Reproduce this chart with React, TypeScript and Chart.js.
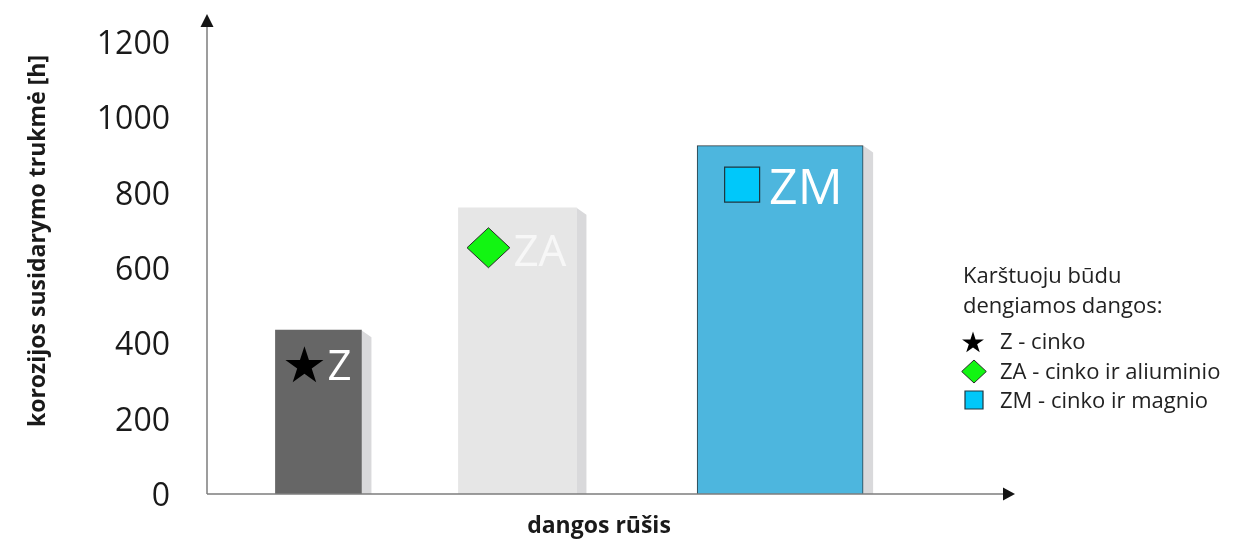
import React, { useEffect, useRef } from "react";
import { Chart, registerables } from "chart.js";

Chart.register(...registerables);

// ---- data ----
const categories = ["Z", "ZA", "ZM"];
const values = [435, 760, 925];
// place of each coating on the hidden horizontal scale (0–100)
const slots = [14, 39, 72];
const yTickValues = [0, 200, 400, 600, 800, 1000, 1200];
const legendTitle = ["Karštuoju būdu", "dengiamos dangos:"];
const legendLabels = ["Z - cinko", "ZA - cinko ir aliuminio", "ZM - cinko ir magnio"];
const yTitle = "korozijos susidarymo trukmė [h]";
const xTitle = "dangos rūšis";

// ---- styles ----
const FONT = '"Open Sans", "Noto Sans", sans-serif';
const barColors = ["#666666", "#e6e6e6", "#4db6de"];
const barBorders = ["#666666", "#e6e6e6", "#2b3a40"];
const barBorderWidths = [0, 0, 1];
const barThickness = [86, 118, 166];
const textDark = "#1a1a1a";

function starPath(ctx: CanvasRenderingContext2D, cx: number, cy: number, R: number) {
  ctx.beginPath();
  for (let i = 0; i < 10; i++) {
    const r = i % 2 ? R * 0.382 : R;
    const a = -Math.PI / 2 + (i * Math.PI) / 5;
    const px = cx + r * Math.cos(a);
    const py = cy + r * Math.sin(a);
    if (i === 0) ctx.moveTo(px, py);
    else ctx.lineTo(px, py);
  }
  ctx.closePath();
}

function diamondPath(ctx: CanvasRenderingContext2D, cx: number, cy: number, hw: number, hh: number) {
  ctx.beginPath();
  ctx.moveTo(cx, cy - hh);
  ctx.lineTo(cx + hw, cy);
  ctx.lineTo(cx, cy + hh);
  ctx.lineTo(cx - hw, cy);
  ctx.closePath();
}

function drawMarker(ctx: CanvasRenderingContext2D, i: number, cx: number, cy: number, s: number) {
  ctx.save();
  if (i === 0) {
    starPath(ctx, cx, cy, s);
    ctx.fillStyle = "#000000";
    ctx.fill();
  } else if (i === 1) {
    diamondPath(ctx, cx, cy, s * 1.07, s);
    ctx.fillStyle = "#12f512";
    ctx.fill();
    ctx.lineWidth = 1;
    ctx.strokeStyle = "#2a2a2a";
    ctx.stroke();
  } else {
    ctx.beginPath();
    ctx.rect(cx - s, cy - s, 2 * s, 2 * s);
    ctx.fillStyle = "#00c8fa";
    ctx.fill();
    ctx.lineWidth = 1.2;
    ctx.strokeStyle = "#1f3640";
    ctx.stroke();
  }
  ctx.restore();
}

const shadowPlugin = {
  id: "barShadow",
  beforeDatasetsDraw(chart: any) {
    const ctx = chart.ctx as CanvasRenderingContext2D;
    ctx.save();
    ctx.fillStyle = "#d9d9db";
    chart.data.datasets.forEach((_: any, di: number) => {
      const meta = chart.getDatasetMeta(di);
      meta.data.forEach((el: any) => {
        const { x, y, base, width } = el.getProps(["x", "y", "base", "width"], true);
        const right = x + width / 2;
        ctx.beginPath();
        ctx.moveTo(right, y);
        ctx.lineTo(right + 10, y + 7);
        ctx.lineTo(right + 10, base);
        ctx.lineTo(right, base);
        ctx.closePath();
        ctx.fill();
      });
    });
    ctx.restore();
  },
};

const barLabelPlugin = {
  id: "barLabels",
  afterDatasetsDraw(chart: any) {
    const ctx = chart.ctx as CanvasRenderingContext2D;
    const cfg = [
      { mx: 29, my: 36, ms: 20, tx: 52, ty: 50, size: 42, color: "#ffffff" },
      { mx: 30, my: 40, ms: 20, tx: 55, ty: 58, size: 44, color: "#f7f7f7" },
      { mx: 45, my: 39, ms: 17.5, tx: 72, ty: 58, size: 50, color: "#ffffff" },
    ];
    chart.data.datasets.forEach((_: any, di: number) => {
      const meta = chart.getDatasetMeta(di);
      const el = meta.data[0];
      if (!el) return;
      const { x, y, width } = el.getProps(["x", "y", "width"], true);
      const left = x - width / 2;
      const c = cfg[di];
      drawMarker(ctx, di, left + c.mx, y + c.my, c.ms);
      ctx.save();
      ctx.fillStyle = c.color;
      ctx.font = `${c.size}px ${FONT}`;
      ctx.textAlign = "left";
      ctx.textBaseline = "alphabetic";
      ctx.fillText(categories[di], left + c.tx, y + c.ty);
      ctx.restore();
    });
  },
};

const axesPlugin = {
  id: "arrowAxes",
  afterDatasetsDraw(chart: any) {
    const ctx = chart.ctx as CanvasRenderingContext2D;
    const { left, right, top, bottom } = chart.chartArea;
    ctx.save();
    ctx.strokeStyle = "#7d7d7d";
    ctx.lineWidth = 1.5;
    ctx.beginPath();
    ctx.moveTo(left, bottom);
    ctx.lineTo(right + 2, bottom);
    ctx.moveTo(left, bottom);
    ctx.lineTo(left, top - 16);
    ctx.stroke();
    ctx.fillStyle = "#151515";
    // x arrow
    ctx.beginPath();
    ctx.moveTo(right + 12, bottom);
    ctx.lineTo(right, bottom - 6.5);
    ctx.lineTo(right, bottom + 6.5);
    ctx.closePath();
    ctx.fill();
    // y arrow
    ctx.beginPath();
    ctx.moveTo(left, top - 28);
    ctx.lineTo(left - 6.5, top - 15);
    ctx.lineTo(left + 6.5, top - 15);
    ctx.closePath();
    ctx.fill();
    ctx.restore();
  },
};

const textPlugin = {
  id: "extraText",
  afterDraw(chart: any) {
    const ctx = chart.ctx as CanvasRenderingContext2D;
    ctx.save();
    ctx.fillStyle = textDark;
    // axis titles
    ctx.font = `bold 23px ${FONT}`;
    ctx.textAlign = "center";
    ctx.textBaseline = "middle";
    ctx.fillText(xTitle, 599, 526);
    ctx.save();
    ctx.translate(38, 241);
    ctx.rotate(-Math.PI / 2);
    ctx.fillText(yTitle, 0, 0);
    ctx.restore();
    // legend
    ctx.textAlign = "left";
    ctx.textBaseline = "alphabetic";
    ctx.fillStyle = "#222222";
    ctx.font = `22px ${FONT}`;
    legendTitle.forEach((t, i) => ctx.fillText(t, 963, 283 + i * 30));
    legendLabels.forEach((t, i) => {
      const by = 349 + i * 29.5;
      const cy = by - 7;
      if (i === 0) drawMarker(ctx, 0, 973, cy + 1, 11.5);
      else if (i === 1) drawMarker(ctx, 1, 974, cy, 11.5);
      else drawMarker(ctx, 2, 974, cy - 1, 9);
      ctx.fillStyle = "#222222";
      ctx.fillText(t, 1000, by);
    });
    ctx.restore();
  },
};

export default function App() {
  const ref = useRef<HTMLCanvasElement | null>(null);

  useEffect(() => {
    if (!ref.current) return;
    const chart = new Chart(ref.current, {
      type: "bar",
      data: {
        datasets: categories.map((c, i) => ({
          label: c,
          data: [{ x: slots[i], y: values[i] }],
          backgroundColor: barColors[i],
          borderColor: barBorders[i],
          borderWidth: barBorderWidths[i],
          barThickness: barThickness[i],
          grouped: false,
        })) as any,
      },
      options: {
        animation: false,
        responsive: false,
        layout: { padding: { top: 42, right: 248, bottom: 0, left: 0 } },
        plugins: { legend: { display: false }, tooltip: { enabled: false } },
        scales: {
          x: {
            type: "linear",
            min: 0,
            max: 100,
            offset: false,
            grid: { display: false },
            border: { display: false },
            ticks: { display: false },
            afterFit: (s: any) => {
              s.height = 47;
              s.paddingLeft = 0;
              s.paddingRight = 0;
              s.paddingTop = 0;
              s.paddingBottom = 0;
            },
          },
          y: {
            type: "linear",
            min: 0,
            max: 1200,
            grid: { display: false, drawTicks: false },
            border: { display: false },
            afterBuildTicks: (s: any) => {
              s.ticks = yTickValues.map((v) => ({ value: v }));
            },
            ticks: {
              padding: 37,
              labelOffset: 3,
              color: textDark,
              font: { family: FONT, size: 32 },
              callback: (v: any) => String(v),
            },
            afterFit: (s: any) => {
              s.width = 207;
              s.paddingTop = 0;
              s.paddingBottom = 0;
              s.paddingLeft = 0;
              s.paddingRight = 0;
            },
          },
        },
      },
      plugins: [shadowPlugin, barLabelPlugin, axesPlugin, textPlugin],
    });
    return () => chart.destroy();
  }, []);

  return (
    <div style={{ position: "fixed", left: 0, top: 0, width: 1251, height: 541, background: "#ffffff" }}>
      <canvas ref={ref} width={1251} height={541} style={{ display: "block" }} />
    </div>
  );
}
